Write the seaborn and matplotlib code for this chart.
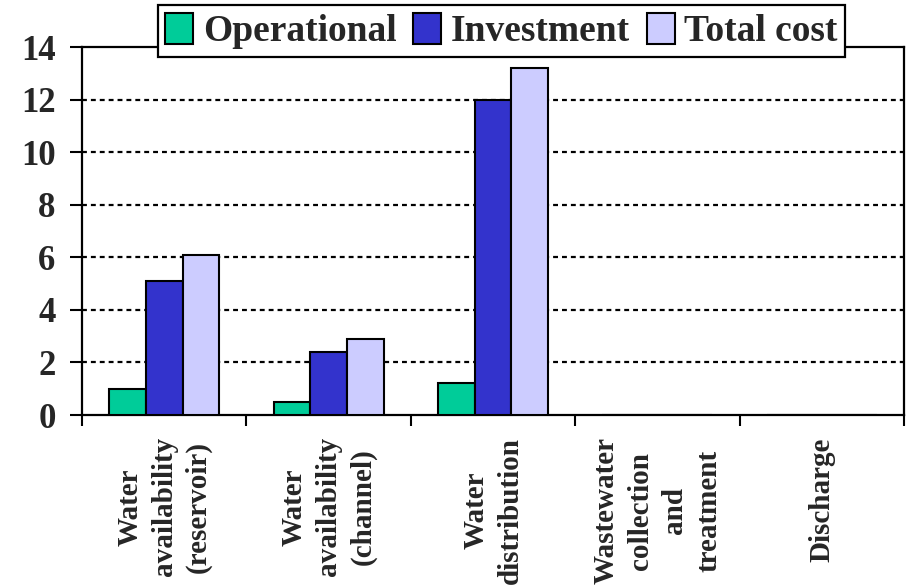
import matplotlib
matplotlib.use("Agg")
import matplotlib.pyplot as plt
import seaborn as sns
import pandas as pd
from matplotlib.ticker import FixedLocator

categories = [
    "Water\navailability\n(reservoir)",
    "Water\navailability\n(channel)",
    "Water\ndistribution",
    "Wastewater\ncollection\nand\ntreatment",
    "Discharge",
]
operational = [1.0, 0.5, 1.2, 0.0, 0.0]
investment = [5.1, 2.4, 12.0, 0.0, 0.0]
total_cost = [6.1, 2.9, 13.2, 0.0, 0.0]
series_names = ["Operational", "Investment", "Total cost"]
series_colors = ["#00CC99", "#3333CC", "#CCCCFF"]
y_ticks = [0, 2, 4, 6, 8, 10, 12, 14]

sns.set_theme(style="white")
plt.rcParams["font.family"] = ["Liberation Serif", "DejaVu Serif"]
plt.rcParams["font.weight"] = "bold"

rows = []
for name, vals in zip(series_names, [operational, investment, total_cost]):
    for cat, v in zip(categories, vals):
        rows.append({"category": cat, "series": name, "value": v})
df = pd.DataFrame(rows)

fig = plt.figure(figsize=(9.06, 5.87), dpi=100)
ax = fig.add_axes([82 / 906, 172 / 587, 822 / 906, 368 / 587])

sns.barplot(
    data=df, x="category", y="value", hue="series",
    order=categories, hue_order=series_names,
    palette=series_colors, saturation=1, width=0.67,
    errorbar=None, edgecolor="black", linewidth=1.5,
    ax=ax, zorder=3,
)

ax.set_xlim(-0.5, len(categories) - 0.5)
ax.set_ylim(0, 14)
ax.set_yticks(y_ticks)
ax.set_yticklabels([str(t) for t in y_ticks], fontsize=25, fontweight="bold")

# dotted horizontal guides behind the bars
for t in y_ticks[1:-1]:
    ax.axhline(t, color="black", lw=1.6, linestyle=(0, (2.2, 1.8)), zorder=1)

ax.set_xticks(range(len(categories)))
ax.set_xticklabels(categories, rotation=90, fontsize=21, fontweight="bold",
                   ha="center", va="top", multialignment="center",
                   linespacing=1.35)
ax.tick_params(axis="x", which="major", length=0, pad=16)
ax.xaxis.set_minor_locator(FixedLocator([i - 0.5 for i in range(len(categories) + 1)]))
ax.tick_params(axis="x", which="minor", length=8, width=1.5, direction="out",
               color="black", bottom=True)
ax.tick_params(axis="y", length=9, width=1.5, direction="out", color="black",
               left=True, pad=10)

ax.set_xlabel("")
ax.set_ylabel("")
for side in ["left", "right", "top", "bottom"]:
    ax.spines[side].set_visible(True)
    ax.spines[side].set_color("black")
    ax.spines[side].set_linewidth(1.6)

ax.legend_.remove()
handles = [plt.Rectangle((0, 0), 1, 1, facecolor=c, edgecolor="black", linewidth=1.5)
           for c in series_colors]
leg = fig.legend(handles, series_names, loc="center", ncol=3,
                 bbox_to_anchor=(0.5535, 0.947), bbox_transform=fig.transFigure,
                 prop={"family": "Liberation Serif", "weight": "bold", "size": 27},
                 frameon=True, fancybox=False, framealpha=1, edgecolor="black",
                 handlelength=0.75, handleheight=0.9, handletextpad=0.25,
                 columnspacing=0.45, borderpad=0.2, borderaxespad=0)
leg.get_frame().set_linewidth(1.6)
leg.set_zorder(10)

fig.savefig("out.png", dpi=100)
